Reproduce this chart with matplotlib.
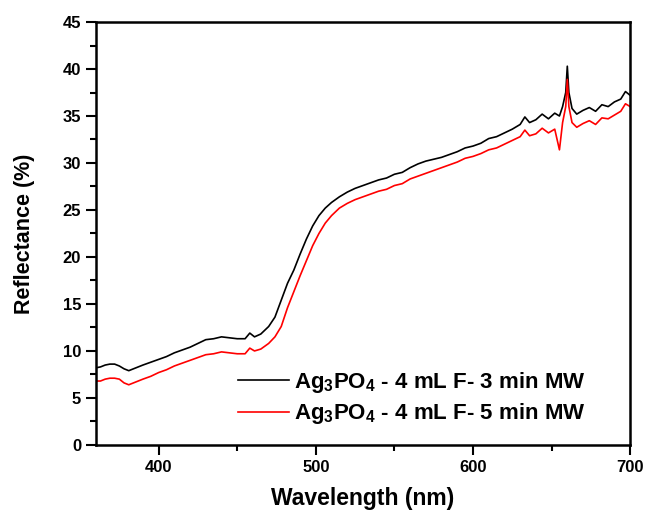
import matplotlib
matplotlib.use("Agg")
import matplotlib.pyplot as plt
from matplotlib.ticker import MultipleLocator

plt.rcParams['font.family'] = ['Liberation Sans', 'DejaVu Sans']
plt.rcParams['font.weight'] = 'bold'
plt.rcParams['mathtext.default'] = 'bf'
plt.rcParams['mathtext.fontset'] = 'custom'
plt.rcParams['mathtext.bf'] = 'Liberation Sans:bold'
plt.rcParams['mathtext.rm'] = 'Liberation Sans:bold'

wl = [360, 363, 366, 369, 372, 375, 378, 381, 384, 387, 390, 395, 400, 405, 410, 415,
      420, 425, 430, 435, 440, 445, 450, 455, 458, 461, 465, 470, 474, 478, 482, 486,
      490, 494, 498, 502, 506, 510, 515, 520, 525, 530, 535, 540, 545, 550, 555, 560,
      565, 570, 575, 580, 585, 590, 595, 600, 605, 610, 615, 620, 625, 630, 633, 636,
      640, 644, 648, 652, 655, 657, 659, 660, 661, 663, 666, 670, 674, 678, 682, 686,
      690, 694, 697, 700]

black = [8.2, 8.3, 8.5, 8.6, 8.6, 8.4, 8.1, 7.9, 8.1, 8.3, 8.5, 8.8, 9.1, 9.4, 9.8, 10.1,
         10.4, 10.8, 11.2, 11.3, 11.5, 11.4, 11.3, 11.3, 11.9, 11.5, 11.8, 12.6, 13.6, 15.4, 17.2, 18.6,
         20.3, 21.9, 23.3, 24.4, 25.2, 25.8, 26.4, 26.9, 27.3, 27.6, 27.9, 28.2, 28.4, 28.8, 29.0, 29.5,
         29.9, 30.2, 30.4, 30.6, 30.9, 31.2, 31.6, 31.8, 32.1, 32.6, 32.8, 33.2, 33.6, 34.1, 34.9, 34.3,
         34.6, 35.2, 34.7, 35.3, 35.0, 36.0, 37.5, 40.3, 37.5, 35.8, 35.2, 35.6, 35.9, 35.5, 36.2, 36.0,
         36.5, 36.8, 37.6, 37.2]

red = [6.8, 6.8, 7.0, 7.1, 7.1, 7.0, 6.6, 6.4, 6.6, 6.8, 7.0, 7.3, 7.7, 8.0, 8.4, 8.7,
       9.0, 9.3, 9.6, 9.7, 9.9, 9.8, 9.7, 9.7, 10.3, 10.0, 10.2, 10.8, 11.5, 12.6, 14.6, 16.3,
       18.0, 19.6, 21.2, 22.5, 23.6, 24.4, 25.2, 25.7, 26.1, 26.4, 26.7, 27.0, 27.2, 27.6, 27.8, 28.3,
       28.6, 28.9, 29.2, 29.5, 29.8, 30.1, 30.5, 30.7, 31.0, 31.4, 31.6, 32.0, 32.4, 32.8, 33.5, 32.9,
       33.1, 33.7, 33.2, 33.6, 31.4, 34.3, 36.0, 38.9, 36.0, 34.3, 33.8, 34.2, 34.5, 34.1, 34.8, 34.7,
       35.1, 35.5, 36.3, 36.0]

labels = [r'Ag$_3$PO$_4$ - 4 mL F- 3 min MW', r'Ag$_3$PO$_4$ - 4 mL F- 5 min MW']

fig = plt.figure(figsize=(6.47, 5.12), dpi=100)
ax = fig.add_axes([0.148, 0.131, 0.826, 0.826])
ax.plot(wl, black, color='black', lw=1.2, label=labels[0])
ax.plot(wl, red, color='red', lw=1.2, label=labels[1])

ax.set_xlim(360, 700)
ax.set_ylim(0, 45)
ax.xaxis.set_major_locator(MultipleLocator(100))
ax.xaxis.set_minor_locator(MultipleLocator(50))
ax.yaxis.set_major_locator(MultipleLocator(5))
ax.yaxis.set_minor_locator(MultipleLocator(2.5))
ax.tick_params(which='major', direction='out', length=7, width=1.5, labelsize=12)
ax.tick_params(which='minor', direction='out', length=4, width=1.5)
ax.tick_params(top=False, right=False)
for s in ax.spines.values():
    s.set_linewidth(1.8)
for lab in ax.get_xticklabels() + ax.get_yticklabels():
    lab.set_fontweight('bold')

ax.set_xlabel('Wavelength (nm)', fontsize=16.5, fontweight='bold', labelpad=9)
ax.set_ylabel('Reflectance (%)', fontsize=15.5, fontweight='bold', labelpad=20)

leg = ax.legend(loc='lower left', bbox_to_anchor=(0.249, 0.023), frameon=False,
                prop={'size': 16, 'weight': 'bold'}, handlelength=2.3,
                handletextpad=0.25, labelspacing=0.3, borderaxespad=0)

fig.savefig('out.png', dpi=100)
